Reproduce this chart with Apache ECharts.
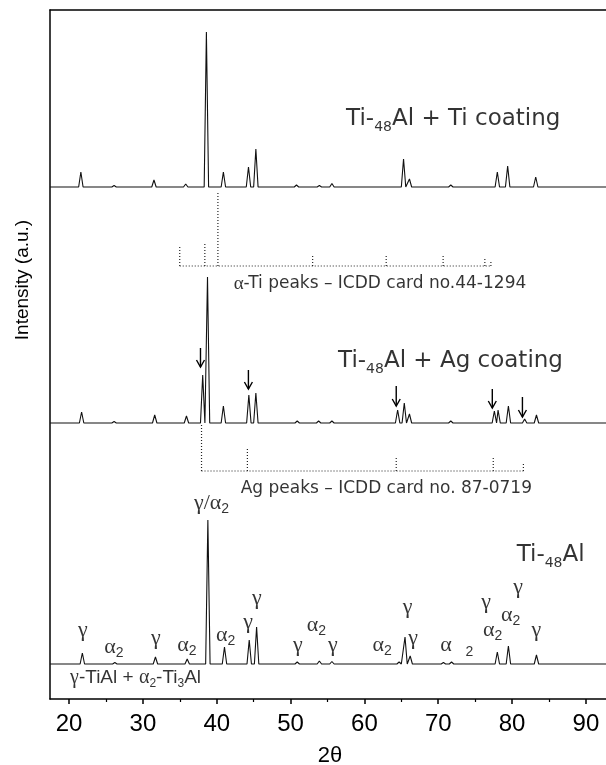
<!DOCTYPE html>
<html>
<head>
<meta charset="utf-8">
<script src="https://cdn.jsdelivr.net/npm/echarts@6/dist/echarts.min.js"></script>
<style>
  html, body { margin: 0; padding: 0; background: #fff; }
  #chart { width: 606px; height: 765px; }
</style>
</head>
<body>
<div id="chart"></div>
<script>
// x range of the plot (2θ)
const X_MIN = 17.42, X_MAX = 93.26;
const xTicks = [20, 30, 40, 50, 60, 70, 80, 90];
const xMinorTicks = [25, 35, 45, 55, 65, 75, 85];

// vertical offsets of the stacked patterns (a.u.)
const TOP_BASE = 512, MID_BASE = 276, LOW_BASE = 35;
const TI_REF_BASE = 433, AG_REF_BASE = 228;

// Ti-48Al + Ti coating
const tiPeakPos = [21.6, 26.1, 31.5, 35.8, 38.6, 40.9, 44.3, 45.3, 50.8, 53.9, 55.6, 65.3, 66.1, 71.7, 78.0, 79.4, 83.2];
const tiPeakInt = [15, 1.5, 7, 3, 155, 15, 20, 38, 2, 1.5, 3.5, 28, 8, 2, 15, 21, 10];

// Ti-48Al + Ag coating
const agPeakPos = [21.7, 26.1, 31.6, 35.9, 38.1, 38.75, 40.9, 44.35, 45.3, 50.9, 53.8, 55.6, 64.5, 65.4, 66.1, 71.7, 77.6, 78.1, 79.5, 81.7, 83.3];
const agPeakInt = [11, 1.5, 8, 7, 48, 146, 17, 28, 30, 2, 2, 2, 13, 20, 9, 2, 12, 13, 17, 4, 8];

// Ti-48Al
const basePeakPos = [21.8, 26.2, 31.7, 36.0, 38.8, 41.05, 44.4, 45.4, 50.9, 53.9, 55.6, 64.7, 65.5, 66.2, 70.7, 71.8, 78.0, 79.5, 83.3];
const basePeakInt = [11, 1.5, 7, 5, 144, 17, 24, 37, 2, 3, 2.5, 2, 27, 8, 1.5, 2, 12, 18, 9];

// reference cards
const alphaTiPos = [34.99, 38.39, 40.16, 52.99, 62.95, 70.66, 76.31, 77.13];
const alphaTiInt = [19, 23, 73, 10, 10, 10, 8, 6];
const agRefPos = [37.94, 44.15, 64.31, 77.45, 81.53];
const agRefInt = [47, 23, 14, 14, 7];

// Ag arrows on the middle pattern: [2θ, top, tip]
const agArrows = [[37.8, 351, 332], [44.29, 329, 310], [64.31, 313, 293], [77.32, 310, 291], [81.4, 302, 282]];

// phase labels on the Ti-48Al pattern: [2θ, y, text]
const phaseLabels = [
  [21.86, 69, 'γ'], [26.06, 52, 'α2'], [31.76, 61, 'γ'], [35.96, 54, 'α2'],
  [41.2, 64, 'α2'], [44.26, 77, 'γ'], [45.42, 101, 'γ'], [50.99, 54, 'γ'],
  [53.5, 74, 'α2'], [55.72, 54, 'γ'], [62.41, 54, 'α2'], [65.86, 92, 'γ'],
  [66.6, 61, 'γ'], [71.04, 54, 'α'], [76.48, 97, 'γ'], [77.36, 69, 'α2'],
  [79.81, 84, 'α2'], [80.83, 112, 'γ'], [83.3, 69, 'γ'], [39.3, 196, 'γ/α2']
];

const HW = 0.3;
function buildTrace(pos, ints, base) {
  const pts = [[X_MIN, base]];
  pos.forEach((p, i) => { pts.push([p - HW, base], [p, base + ints[i]], [p + HW, base]); });
  pts.push([X_MAX, base]);
  return pts;
}
function buildSticks(pos, ints, base) {
  const pts = [];
  pos.forEach((p, i) => { pts.push([p, base], [p, base + ints[i]], '-'); });
  pts.push([pos[0], base], [pos[pos.length - 1], base]);
  return pts;
}
function greek(t) {
  return t.replace(/([γα\/]+)(2?)/, (m, a, b) => '{g|' + a + '}' + (b ? '{s|' + b + '}' : ''));
}

const greekRich = {
  g: { fontFamily: 'Liberation Serif', fontSize: 22, color: '#000', lineHeight: 26 },
  s: { fontFamily: 'Liberation Sans', fontSize: 14, color: '#000', verticalAlign: 'bottom', lineHeight: 14 }
};
const bigRich = {
  m: { fontFamily: 'DejaVu Sans', fontSize: 23, color: '#000', lineHeight: 30 },
  s: { fontFamily: 'DejaVu Sans', fontSize: 14, color: '#000', verticalAlign: 'bottom', lineHeight: 14 }
};
const smallRich = {
  m: { fontFamily: 'DejaVu Sans', fontSize: 17, color: '#000', lineHeight: 22 },
  g: { fontFamily: 'Liberation Serif', fontSize: 19, color: '#000', lineHeight: 22 }
};
const labRich = {
  m: { fontFamily: 'Liberation Sans', fontSize: 19, color: '#000', lineHeight: 24 },
  g: { fontFamily: 'Liberation Serif', fontSize: 20, color: '#000', lineHeight: 24 },
  s: { fontFamily: 'Liberation Sans', fontSize: 12, color: '#000', verticalAlign: 'bottom', lineHeight: 12 }
};

const textLabels = [
  { value: [57.52, 580], text: '{m|Ti-}{s|48}{m|Al + Ti coating}', rich: bigRich },
  { value: [56.43, 338], text: '{m|Ti-}{s|48}{m|Al + Ag coating}', rich: bigRich },
  { value: [80.62, 144], text: '{m|Ti-}{s|48}{m|Al}', rich: bigRich },
  { value: [42.29, 415], text: '{g|α}{m|-Ti peaks – ICDD card no.44-1294}', rich: smallRich },
  { value: [43.24, 210], text: '{m|Ag peaks – ICDD card no. 87-0719}', rich: smallRich },
  { value: [20.14, 21], text: '{g|γ}{m|-TiAl + }{g|α}{s|2}{m|-Ti}{s|3}{m|Al}', rich: labRich }
];

const chart = echarts.init(document.getElementById('chart'));
const lineCol = '#111';
const frame = { show: true, onZero: false, lineStyle: { color: '#000', width: 1.5 } };

chart.setOption({
  animation: false,
  grid: { left: 50, right: -4, top: 10, bottom: 66, containLabel: false, outerBoundsMode: 'none' },
  xAxis: [{
    type: 'value', min: X_MIN, max: X_MAX, position: 'bottom',
    axisLine: frame, splitLine: { show: false },
    axisTick: { show: true, customValues: xTicks, length: 5, inside: false, lineStyle: { color: '#000', width: 1.5 } },
    axisLabel: { customValues: xTicks, fontFamily: 'Liberation Sans', fontSize: 24, color: '#000', margin: 13 },
    name: '2θ', nameLocation: 'middle', nameGap: 46,
    nameTextStyle: { fontFamily: 'Liberation Sans', fontSize: 22, color: '#000' }
  }, {
    type: 'value', min: X_MIN, max: X_MAX, position: 'bottom',
    axisLine: { show: false }, splitLine: { show: false }, axisLabel: { show: false },
    axisTick: { show: true, customValues: xMinorTicks, length: 3, lineStyle: { color: '#000', width: 1.2 } }
  }, {
    type: 'value', min: X_MIN, max: X_MAX, position: 'top',
    axisLine: frame, splitLine: { show: false }, axisLabel: { show: false }, axisTick: { show: false }
  }],
  yAxis: {
    type: 'value', min: 0, max: 689, position: 'left',
    axisLine: frame, splitLine: { show: false }, axisLabel: { show: false }, axisTick: { show: false }
  },
  graphic: [{
    type: 'text', x: 23, y: 280, rotation: Math.PI / 2,
    style: { text: 'Intensity (a.u.)', font: '19px "Liberation Sans"', fill: '#000', align: 'center', verticalAlign: 'middle', textAlign: 'center', textVerticalAlign: 'middle' }
  }],
  series: [
    { type: 'line', data: buildTrace(tiPeakPos, tiPeakInt, TOP_BASE), symbol: 'none', lineStyle: { color: lineCol, width: 1.1 } },
    { type: 'line', data: buildTrace(agPeakPos, agPeakInt, MID_BASE), symbol: 'none', lineStyle: { color: lineCol, width: 1.1 } },
    { type: 'line', data: buildTrace(basePeakPos, basePeakInt, LOW_BASE), symbol: 'none', lineStyle: { color: lineCol, width: 1.1 } },
    { type: 'line', data: buildSticks(alphaTiPos, alphaTiInt, TI_REF_BASE), symbol: 'none', connectNulls: false, lineStyle: { color: '#222', width: 1.2, type: [1, 2] } },
    { type: 'line', data: buildSticks(agRefPos, agRefInt, AG_REF_BASE), symbol: 'none', connectNulls: false, lineStyle: { color: '#222', width: 1.2, type: [1, 2] } },
    {
      type: 'custom', data: agArrows,
      renderItem: (params, api) => {
        const top = api.coord([api.value(0), api.value(1)]);
        const tip = api.coord([api.value(0), api.value(2)]);
        const st = { stroke: '#000', lineWidth: 1.4, fill: null };
        return {
          type: 'group', children: [
            { type: 'line', shape: { x1: top[0], y1: top[1], x2: tip[0], y2: tip[1] }, style: st },
            { type: 'polyline', shape: { points: [[tip[0] - 4, tip[1] - 7], tip, [tip[0] + 4, tip[1] - 7]] }, style: st }
          ]
        };
      }
    },
    {
      type: 'scatter', symbolSize: 0,
      data: phaseLabels.map(d => ({ value: [d[0], d[1]], text: d[2] })),
      label: { show: true, position: 'inside', formatter: p => greek(p.data.text), rich: greekRich }
    },
    {
      type: 'scatter', symbolSize: 0,
      data: [{ value: [74.23, 47] }],
      label: { show: true, position: 'inside', formatter: '2', fontFamily: 'Liberation Sans', fontSize: 14, color: '#000' }
    },
    {
      type: 'scatter', symbolSize: 0,
      data: textLabels.map(d => ({ value: d.value, label: { formatter: d.text, rich: d.rich } })),
      label: { show: true, position: 'right', distance: 0, align: 'left', verticalAlign: 'middle' }
    }
  ]
});
</script>
</body>
</html>
